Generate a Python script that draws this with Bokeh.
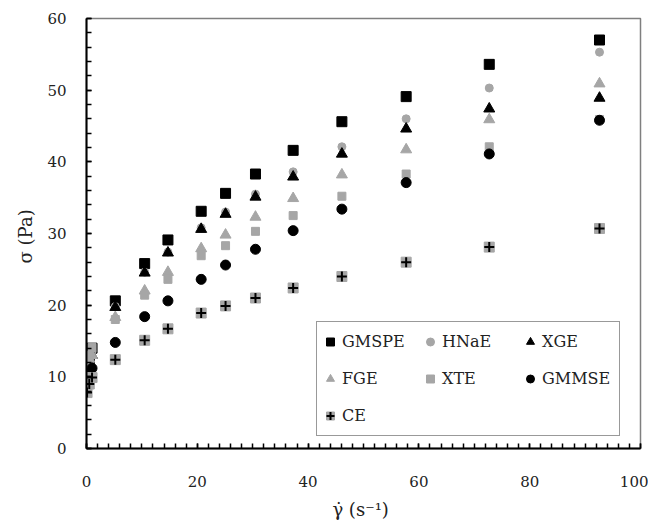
from bokeh.plotting import figure
from bokeh.models import Legend, LegendItem, FixedTicker
from bokeh.embed import file_html
from bokeh.resources import INLINE

# Shear rate (s^-1)
shear_rate = [0.1, 0.5, 1.0, 5.2, 10.5, 14.7, 20.7, 25.1, 30.5, 37.3, 46.1, 57.7, 72.7, 92.6]

# Shear stress (Pa) per sample
GMSPE = [11.0, 12.5, 14.0, 20.6, 25.8, 29.1, 33.1, 35.6, 38.3, 41.6, 45.6, 49.1, 53.6, 57.0]
HNaE = [10.5, 12.0, 13.5, 19.8, 24.6, 27.4, 30.8, 33.0, 35.5, 38.6, 42.1, 46.0, 50.3, 55.3]
XGE = [10.5, 12.0, 13.0, 19.7, 24.5, 27.3, 30.6, 32.7, 35.1, 37.9, 41.1, 44.6, 47.4, 48.9]
FGE = [11.0, 12.5, 13.0, 18.3, 22.0, 24.6, 27.9, 29.8, 32.3, 34.9, 38.2, 41.7, 45.9, 50.9]
XTE = [12.0, 13.0, 14.1, 18.0, 21.4, 23.6, 26.9, 28.3, 30.3, 32.5, 35.2, 38.3, 42.1, 45.9]
GMMSE = [9.5, 10.5, 11.2, 14.8, 18.4, 20.6, 23.6, 25.6, 27.8, 30.4, 33.4, 37.1, 41.1, 45.8]
CE = [7.8, 9.0, 9.9, 12.4, 15.1, 16.7, 18.9, 19.9, 21.0, 22.4, 24.0, 26.0, 28.1, 30.7]

x_ticks = [0, 20, 40, 60, 80, 100]
y_ticks = [0, 10, 20, 30, 40, 50, 60]

BLACK = "#000000"
GRAY = "#a6a6a6"
FONT = "DejaVu Serif"

p = figure(frame_width=554, frame_height=430, output_backend="svg", toolbar_location=None,
           x_range=(0, 100), y_range=(0, 60),
           min_border_left=86, min_border_right=8, min_border_top=18, min_border_bottom=60)
p.grid.visible = False
p.outline_line_color = "#7f7f7f"
p.outline_line_width = 1.5
p.background_fill_color = "white"
p.border_fill_color = "white"

for ax in (p.xaxis[0], p.yaxis[0]):
    ax.axis_line_color = BLACK
    ax.axis_line_width = 2
    ax.major_tick_in = 5
    ax.major_tick_out = 0
    ax.minor_tick_in = 5
    ax.minor_tick_out = 0
    ax.major_tick_line_color = BLACK
    ax.minor_tick_line_color = BLACK
    ax.major_tick_line_width = 1.5
    ax.minor_tick_line_width = 1.5
    ax.major_label_text_font = FONT
    ax.major_label_text_font_size = "15px"
    ax.major_label_text_color = "#222222"
    ax.axis_label_text_font = FONT
    ax.axis_label_text_font_style = "normal"
    ax.axis_label_text_font_size = "18px"
    ax.axis_label_text_color = "#222222"

p.xaxis[0].ticker = FixedTicker(ticks=x_ticks, minor_ticks=[i * 2 for i in range(51)])
p.yaxis[0].ticker = FixedTicker(ticks=y_ticks, minor_ticks=[i * 2 for i in range(31)])
p.xaxis[0].major_label_standoff = 27
p.yaxis[0].major_label_standoff = 20
p.xaxis[0].axis_label = "γ̇  (s⁻¹)"
p.yaxis[0].axis_label = "σ  (Pa)"
p.xaxis[0].axis_label_standoff = 9
p.yaxis[0].axis_label_standoff = 8

r1 = p.scatter(shear_rate, GMSPE, marker="square", size=10, color=BLACK)
r2 = p.scatter(shear_rate, HNaE, marker="circle", size=8, color=GRAY)
r3 = p.scatter(shear_rate, XGE, marker="triangle", size=11, color=BLACK)
r4 = p.scatter(shear_rate, FGE, marker="triangle", size=11, color=GRAY)
r5 = p.scatter(shear_rate, XTE, marker="square", size=8, color=GRAY)
r6 = p.scatter(shear_rate, GMMSE, marker="circle", size=10, color=BLACK)
r7a = p.scatter(shear_rate, CE, marker="square", size=10, color=GRAY)
r7b = p.scatter(shear_rate, CE, marker="cross", size=10, line_color=BLACK, line_width=2)

legend = Legend(items=[
    LegendItem(label="GMSPE", renderers=[r1]),
    LegendItem(label="HNaE", renderers=[r2]),
    LegendItem(label="XGE", renderers=[r3]),
    LegendItem(label="FGE", renderers=[r4]),
    LegendItem(label="XTE", renderers=[r5]),
    LegendItem(label="GMMSE", renderers=[r6]),
    LegendItem(label="CE", renderers=[r7a, r7b]),
], location=(230, 12), orientation="horizontal", ncols=3)
legend.label_text_font = FONT
legend.label_text_font_size = "16px"
legend.label_text_color = "#222222"
legend.border_line_color = "#333333"
legend.border_line_width = 1.5
legend.background_fill_color = "white"
legend.background_fill_alpha = 1
legend.glyph_width = 20
legend.glyph_height = 33
legend.label_width = 74
legend.label_standoff = 2
legend.spacing = 4
legend.padding = 3
legend.margin = 0
p.add_layout(legend, "center")

open("out.html", "w").write(file_html(p, INLINE))
